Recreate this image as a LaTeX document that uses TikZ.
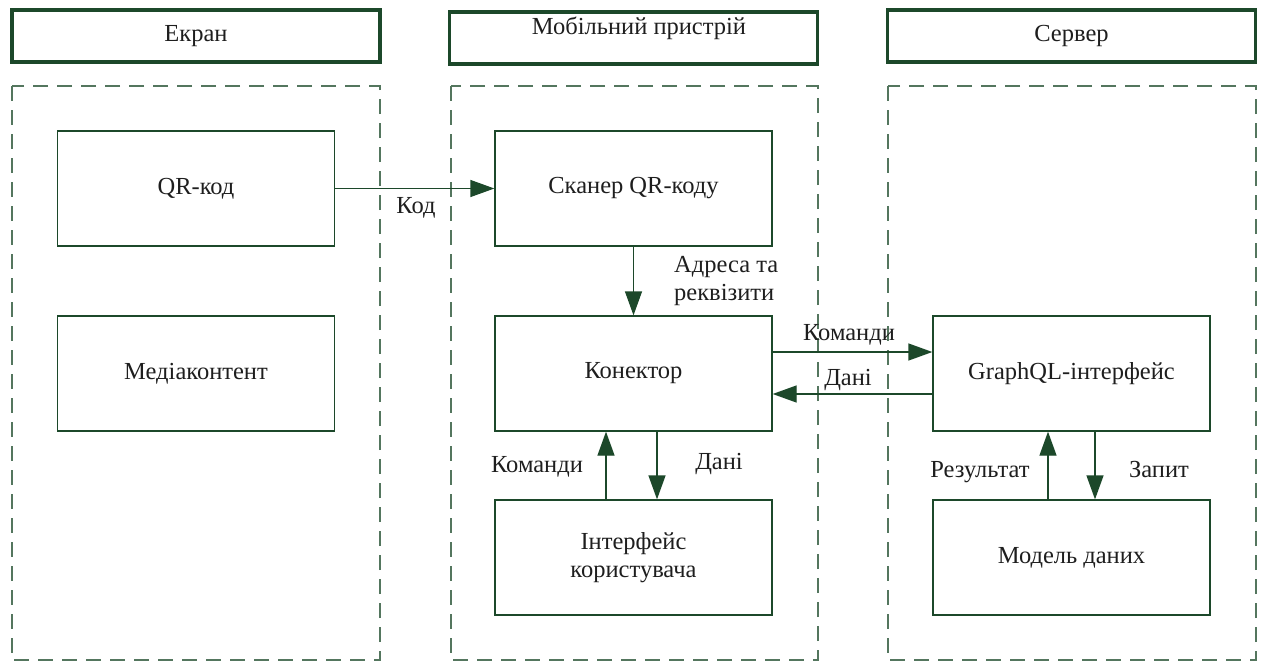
\documentclass[tikz,border=0pt]{standalone}
\usepackage{fontspec}
\setmainfont{Liberation Serif}
\usetikzlibrary{arrows.meta}
\definecolor{dgreen}{RGB}{28,72,42}
\definecolor{dashgreen}{RGB}{84,118,94}
\definecolor{txt}{RGB}{30,30,30}
\tikzset{
  every node/.style={font=\fontsize{24.5}{28}\selectfont, text=txt},
  hdr/.style={draw=dgreen, line width=3.4pt, minimum width=368pt, minimum height=52pt, inner sep=0pt},
  area/.style={draw=dashgreen, line width=1.2pt, dash pattern=on 15pt off 9pt},
  box/.style={draw=dgreen, line width=1.3pt, minimum width=277pt, minimum height=115pt, inner sep=0pt, align=center},
  flow/.style={draw=dgreen, line width=1.3pt, -{Triangle[length=24pt, width=17pt]}},
  lbl/.style={inner sep=0pt}
}
\begin{document}
\begin{tikzpicture}[x=1pt, y=-1pt]
\useasboundingbox (0,0) rectangle (1264,661);

% column headers
\node[hdr] (hs) at (196,36) {Екран};
\node[hdr] (hm) at (633.5,38) {};
\node[lbl] (hmt) at (639,28) {Мобільний пристрій};
\node[hdr] (hv) at (1071.5,36) {Сервер};

% dashed column areas
\draw[area] (12,86) rectangle (380,660);
\draw[area] (451,86) rectangle (818,660);
\draw[area] (888,86) rectangle (1256,660);

% screen
\node[box] (qr) at (196,188.5) {QR-код};
\node[box] (media) at (196,373.5) {Медіаконтент};

% mobile device
\node[box] (scan) at (633.5,188.5) {Сканер QR-коду};
\node[box] (con) at (633.5,373.5) {Конектор};
\node[box] (ui) at (633.5,557.5) {Інтерфейс\\користувача};

% server
\node[box] (gql) at (1071.5,373.5) {GraphQL-інтерфейс};
\node[box] (model) at (1071.5,557.5) {Модель даних};

% connectors
\draw[flow] (qr.east) -- (scan.west);
\node[lbl] (lkod) at (416,208) {Код};

\draw[flow] (scan.south) -- (con.north);
\node[lbl, anchor=west, align=left] (laddr) at (674,281) {Адреса та\\реквізити};

\draw[flow] ([yshift=21.5pt]con.east) -- ([yshift=21.5pt]gql.west);
\node[lbl] (lcmd) at (849,335) {Команди};
\draw[flow] ([yshift=-20.5pt]gql.west) -- ([yshift=-20.5pt]con.east);
\node[lbl] (ldata) at (848,380) {Дані};

\draw[flow] ([xshift=-27.5pt]ui.north) -- ([xshift=-27.5pt]con.south);
\node[lbl] (lcmd2) at (537,467) {Команди};
\draw[flow] ([xshift=23.5pt]con.south) -- ([xshift=23.5pt]ui.north);
\node[lbl] (ldata2) at (719,464) {Дані};

\draw[flow] ([xshift=-23.5pt]model.north) -- ([xshift=-23.5pt]gql.south);
\node[lbl] (lres) at (980,472) {Результат};
\draw[flow] ([xshift=23.5pt]gql.south) -- ([xshift=23.5pt]model.north);
\node[lbl] (lreq) at (1159,469) {Запит};
\end{tikzpicture}
\end{document}
